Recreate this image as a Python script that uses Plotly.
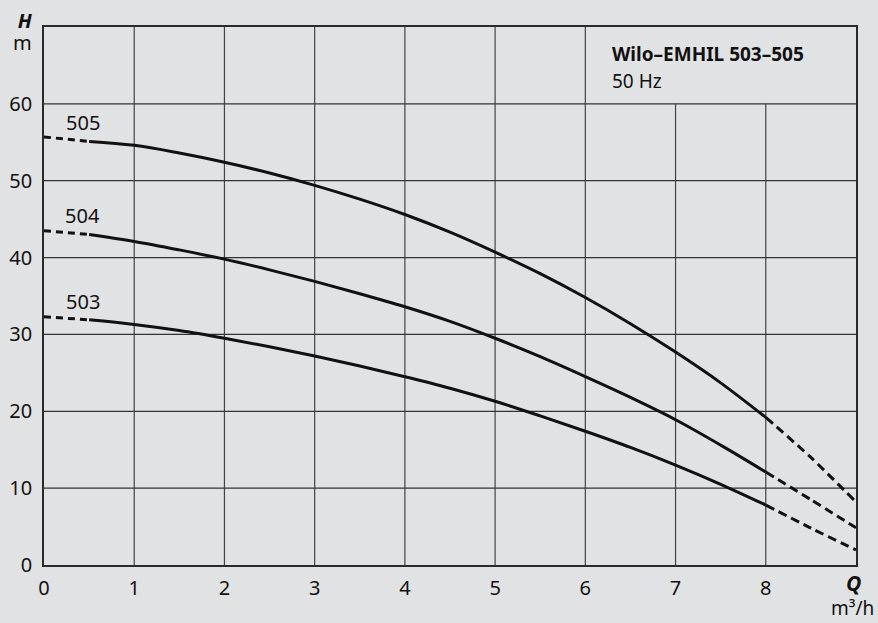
import plotly.graph_objects as go

# ---- data ----
q_start = [0, 0.5]
q_solid = [0.5, 1, 1.5, 2, 2.5, 3, 3.5, 4, 4.5, 5, 5.5, 6, 6.5, 7, 7.5, 8]
q_end = [8, 8.5, 9]

h505_start = [55.7, 55.1]
h505_solid = [55.1, 54.6, 53.6, 52.4, 51.0, 49.4, 47.6, 45.6, 43.3, 40.7, 37.9, 34.8, 31.4, 27.7, 23.7, 19.2]
h505_end = [19.2, 14.0, 8.2]

h504_start = [43.5, 43.0]
h504_solid = [43.0, 42.1, 41.0, 39.8, 38.4, 36.9, 35.3, 33.6, 31.7, 29.5, 27.1, 24.5, 21.8, 18.9, 15.6, 12.1]
h504_end = [12.1, 8.5, 4.85]

h503_start = [32.3, 31.9]
h503_solid = [31.9, 31.3, 30.5, 29.5, 28.4, 27.2, 25.9, 24.5, 23.0, 21.3, 19.4, 17.4, 15.3, 13.0, 10.5, 7.8]
h503_end = [7.8, 4.8, 1.95]

pump_names = ["505", "504", "503"]
label_q = [0.43, 0.43, 0.43]
label_h = [57.6, 45.5, 34.3]

x_ticks = [0, 1, 2, 3, 4, 5, 6, 7, 8]
y_ticks = [0, 10, 20, 30, 40, 50, 60]

title_main = "Wilo–EMHIL 503–505"
title_sub = "50 Hz"

BG = "#e1e2e4"
FONT = "Noto Sans, Open Sans, sans-serif"
INK = "#111111"

fig = go.Figure()

series = [
    (h505_start, h505_solid, h505_end),
    (h504_start, h504_solid, h504_end),
    (h503_start, h503_solid, h503_end),
]
for hs, hm, he in series:
    fig.add_trace(go.Scatter(x=q_start, y=hs, mode="lines",
                             line=dict(color=INK, width=3, dash="7px,5px"),
                             showlegend=False, hoverinfo="skip"))
    fig.add_trace(go.Scatter(x=q_solid, y=hm, mode="lines",
                             line=dict(color=INK, width=3, shape="spline", smoothing=1.0),
                             showlegend=False))
    fig.add_trace(go.Scatter(x=q_end, y=he, mode="lines",
                             line=dict(color=INK, width=3, dash="9px,5px", shape="spline", smoothing=0.6),
                             showlegend=False, hoverinfo="skip"))

# grid lines (title cell at top right has no inner lines)
shapes = []
for xv in range(1, 9):
    top = 70 if xv <= 6 else 60
    shapes.append(dict(type="line", xref="x", yref="y", x0=xv, x1=xv, y0=0, y1=top,
                       line=dict(color="#444444", width=1.2), layer="below"))
for yv in range(10, 70, 10):
    shapes.append(dict(type="line", xref="x", yref="y", x0=0, x1=9, y0=yv, y1=yv,
                       line=dict(color="#333333", width=1.2), layer="below"))
fig.update_layout(shapes=shapes)

annotations = []
for name, qx, hy in zip(pump_names, label_q, label_h):
    annotations.append(dict(x=qx, y=hy, xref="x", yref="y", text=name, showarrow=False,
                            xanchor="center", yanchor="middle",
                            font=dict(family=FONT, size=20, color=INK)))
annotations.append(dict(x=6.27, y=66.5, xref="x", yref="y", text="<b>" + title_main + "</b>",
                        showarrow=False, xanchor="left", yanchor="middle",
                        font=dict(family=FONT, size=19, color=INK)))
annotations.append(dict(x=6.27, y=63.0, xref="x", yref="y", text=title_sub,
                        showarrow=False, xanchor="left", yanchor="middle",
                        font=dict(family=FONT, size=19, color=INK)))
# axis titles
annotations.append(dict(x=0, y=1, xref="paper", yref="paper",
                        text="<span style='font-size:20px'><b><i>H</i></b></span><br>"
                             "<span style='font-size:20px'>m</span>",
                        showarrow=False, xanchor="right", yanchor="middle", align="right",
                        xshift=-9, yshift=-4, font=dict(family=FONT, size=17, color=INK)))
annotations.append(dict(x=1, y=0, xref="paper", yref="paper", text="<b><i>Q</i></b>",
                        showarrow=False, xanchor="center", yanchor="middle",
                        xshift=-3, yshift=-18, font=dict(family=FONT, size=21, color=INK)))
annotations.append(dict(x=1, y=0, xref="paper", yref="paper", text="m³/h",
                        showarrow=False, xanchor="right", yanchor="middle",
                        xshift=20, yshift=-43, font=dict(family=FONT, size=19, color=INK)))
fig.update_layout(annotations=annotations)

fig.update_xaxes(range=[0, 9], tickvals=x_ticks, ticktext=[str(v) for v in x_ticks],
                 showgrid=False, zeroline=False, showline=True, linecolor="#2a2a2a",
                 linewidth=1.5, mirror=True, ticks="outside", ticklen=4, tickcolor="rgba(0,0,0,0)",
                 automargin=False,
                 tickfont=dict(family=FONT, size=20, color=INK), fixedrange=True)
fig.update_yaxes(range=[0, 70], tickvals=y_ticks, ticktext=[str(v) for v in y_ticks],
                 showgrid=False, zeroline=False, showline=True, linecolor="#2a2a2a",
                 linewidth=1.5, mirror=True, ticks="outside", ticklen=6, tickcolor="rgba(0,0,0,0)",
                 automargin=False,
                 tickfont=dict(family=FONT, size=20, color=INK), fixedrange=True)

fig.update_layout(width=878, height=623,
                  margin=dict(l=44, r=22, t=27, b=58, autoexpand=False),
                  paper_bgcolor=BG, plot_bgcolor=BG,
                  showlegend=False)

fig.write_html("out.html",
               config={"displayModeBar": False},
               post_script="document.body.style.margin='0';document.body.style.overflow='hidden';"
                           "document.body.style.background='" + BG + "';")
